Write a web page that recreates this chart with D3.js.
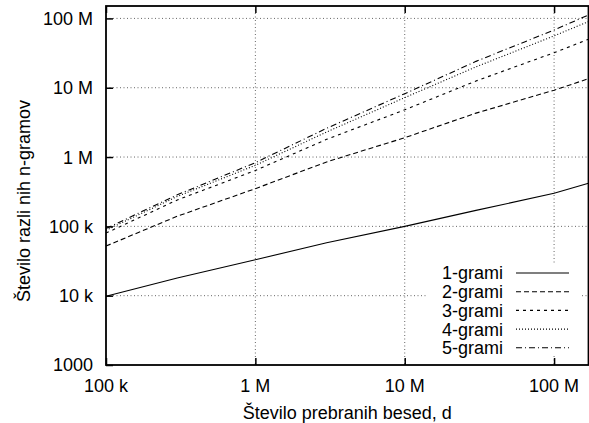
<!DOCTYPE html>
<html>
<head>
<meta charset="utf-8">
<script src="https://cdn.jsdelivr.net/npm/d3@7"></script>
<style>
  body { margin: 0; background: #fff; }
  text { font-family: "Liberation Sans", Arial, sans-serif; fill: #000; }
</style>
</head>
<body>
<div id="chart"></div>
<script>
// data
var words = [1e5, 3e5, 1e6, 3e6, 1e7, 3e7, 1e8, 1.7e8];
var names = ["1-grami", "2-grami", "3-grami", "4-grami", "5-grami"];
var gram1 = [9800, 18000, 33000, 58000, 100000, 170000, 300000, 420000];
var gram2 = [52000, 140000, 350000, 850000, 1.9e6, 4.3e6, 9.2e6, 1.35e7];
var gram3 = [80000, 240000, 640000, 1.8e6, 4.8e6, 1.25e7, 3.2e7, 5.0e7];
var gram4 = [88000, 270000, 760000, 2.3e6, 7.2e6, 2.0e7, 5.6e7, 9.0e7];
var gram5 = [93000, 285000, 830000, 2.6e6, 8.2e6, 2.4e7, 6.8e7, 1.12e8];
var xTicks = [1e5, 1e6, 1e7, 1e8];
var xTickLabels = ["100 k", "1 M", "10 M", "100 M"];
var yTicks = [1e3, 1e4, 1e5, 1e6, 1e7, 1e8];
var yTickLabels = ["1000", "10 k", "100 k", "1 M", "10 M", "100 M"];

var series = [gram1, gram2, gram3, gram4, gram5];
var dashes = ["none", "5,3", "3,4", "1,2", "6,3,1,3"];

var W = 589, H = 423;
var pLeft = 106, pRight = 588.5, pTop = 6, pBottom = 365;
var fs = "18px";

var svg = d3.select("#chart")
  .append("svg")
    .attr("width", W)
    .attr("height", H);

var x = d3.scaleLog()
  .domain([1e5, 1.7e8])
  .range([pLeft, pRight]);

var y = d3.scaleLog()
  .domain([1e3, 1.51e8])
  .range([pBottom, pTop]);

// grid
svg.append("g")
  .selectAll("line")
  .data(xTicks.slice(1))
  .enter()
  .append("line")
    .attr("x1", d => x(d)).attr("x2", d => x(d))
    .attr("y1", pTop).attr("y2", pBottom)
    .attr("stroke", "#666")
    .attr("stroke-width", 1)
    .attr("stroke-dasharray", "1,2.5");
svg.append("g")
  .selectAll("line")
  .data(yTicks.slice(1))
  .enter()
  .append("line")
    .attr("x1", pLeft).attr("x2", pRight)
    .attr("y1", d => y(d)).attr("y2", d => y(d))
    .attr("stroke", "#666")
    .attr("stroke-width", 1)
    .attr("stroke-dasharray", "1,2.5");

// legend background blanks the grid
svg.append("rect")
  .attr("x", 427).attr("y", 263)
  .attr("width", 153).attr("height", 93)
  .attr("fill", "#fff");

// lines
var line = d3.line()
  .x((d, i) => x(words[i]))
  .y(d => y(d));

svg.append("g")
  .selectAll("path")
  .data(series)
  .enter()
  .append("path")
    .attr("d", d => line(d))
    .attr("fill", "none")
    .attr("stroke", "#000")
    .attr("stroke-width", 1.1)
    .attr("stroke-dasharray", (d, i) => dashes[i]);

// axes with inward ticks, mirrored
svg.append("g")
  .attr("transform", "translate(0," + pBottom + ")")
  .call(d3.axisTop(x).tickValues(xTicks).tickFormat("").tickSize(7).tickSizeOuter(0))
  .call(g => g.select(".domain").remove());
svg.append("g")
  .attr("transform", "translate(0," + pTop + ")")
  .call(d3.axisBottom(x).tickValues(xTicks).tickFormat("").tickSize(7).tickSizeOuter(0))
  .call(g => g.select(".domain").remove());
svg.append("g")
  .attr("transform", "translate(" + pLeft + ",0)")
  .call(d3.axisRight(y).tickValues(yTicks).tickFormat("").tickSize(7).tickSizeOuter(0))
  .call(g => g.select(".domain").remove());
svg.selectAll(".tick line").attr("stroke", "#000").attr("stroke-width", 1.5);

// tick labels
svg.append("g")
  .selectAll("text")
  .data(xTicks)
  .enter()
  .append("text")
    .attr("x", d => x(d))
    .attr("y", 392)
    .attr("text-anchor", "middle")
    .attr("font-size", fs)
    .text((d, i) => xTickLabels[i]);
svg.append("g")
  .selectAll("text")
  .data(yTicks)
  .enter()
  .append("text")
    .attr("x", 93)
    .attr("y", d => y(d))
    .attr("dy", "0.36em")
    .attr("text-anchor", "end")
    .attr("font-size", fs)
    .text((d, i) => yTickLabels[i]);

// border
svg.append("rect")
  .attr("x", pLeft).attr("y", pTop)
  .attr("width", pRight - pLeft).attr("height", pBottom - pTop)
  .attr("fill", "none")
  .attr("stroke", "#000")
  .attr("stroke-width", 1.8);

// axis titles
svg.append("text")
  .attr("x", (pLeft + pRight) / 2)
  .attr("y", 419)
  .attr("text-anchor", "middle")
  .attr("font-size", fs)
  .text("Število prebranih besed, d");
svg.append("text")
  .attr("transform", "translate(30,201) rotate(-90)")
  .attr("text-anchor", "middle")
  .attr("font-size", fs)
  .text("Število razli nih n-gramov");

// legend
var leg = svg.append("g")
  .selectAll("g")
  .data(names)
  .enter()
  .append("g")
    .attr("transform", (d, i) => "translate(0," + (273 + i * 18.7) + ")");
leg.append("text")
  .attr("x", 503)
  .attr("dy", "0.36em")
  .attr("text-anchor", "end")
  .attr("font-size", fs)
  .text(d => d);
leg.append("line")
  .attr("x1", 516).attr("x2", 569)
  .attr("stroke", "#000")
  .attr("stroke-width", 1.1)
  .attr("stroke-dasharray", (d, i) => dashes[i]);
</script>
</body>
</html>
